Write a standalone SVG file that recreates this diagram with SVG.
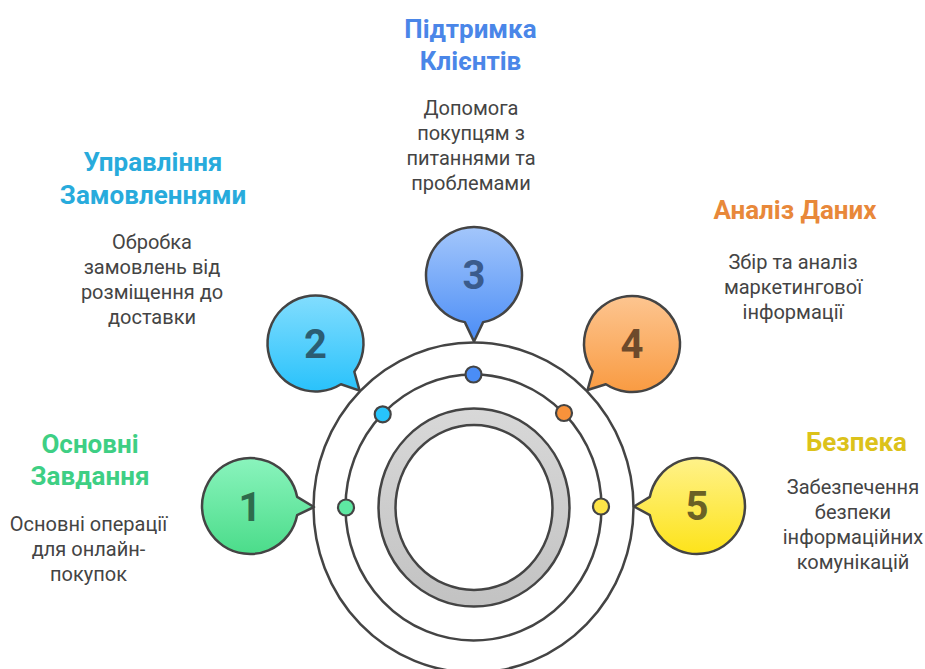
<svg xmlns="http://www.w3.org/2000/svg" width="925" height="669" viewBox="0 0 925 669">
<defs>
<linearGradient id="g1" x1="0" y1="0" x2="0" y2="1"><stop offset="0" stop-color="#8af4bd"/><stop offset="1" stop-color="#4bdc8a"/></linearGradient>
<linearGradient id="g2" x1="0" y1="0" x2="0" y2="1"><stop offset="0" stop-color="#82ddfe"/><stop offset="1" stop-color="#29c2fb"/></linearGradient>
<linearGradient id="g3" x1="0" y1="0" x2="0" y2="1"><stop offset="0" stop-color="#a3c6fb"/><stop offset="1" stop-color="#4b8df6"/></linearGradient>
<linearGradient id="g4" x1="0" y1="0" x2="0" y2="1"><stop offset="0" stop-color="#fdc590"/><stop offset="1" stop-color="#f99b42"/></linearGradient>
<linearGradient id="g5" x1="0" y1="0" x2="0" y2="1"><stop offset="0" stop-color="#fff28a"/><stop offset="1" stop-color="#fde31a"/></linearGradient>
<linearGradient id="gr" x1="0" y1="0" x2="0" y2="1"><stop offset="0" stop-color="#d8d8d8"/><stop offset="1" stop-color="#c2c2c2"/></linearGradient>
<style>
.ln{fill:none;stroke:#444;stroke-width:2.5}
.bub{stroke:#444;stroke-width:2.5;stroke-linejoin:round}
.dot{stroke:#444;stroke-width:2.2}
.num{font-family:Roboto,"Liberation Sans",sans-serif;font-weight:bold;font-size:40px;text-anchor:middle}
.ttl{font-family:Roboto,"Liberation Sans",sans-serif;font-weight:bold;font-size:26px;text-anchor:middle}
.dsc{font-family:Roboto,"Liberation Sans",sans-serif;font-size:20px;fill:#444;text-anchor:middle}
</style>
</defs>
<rect width="925" height="669" fill="#fff"/>

<g id="rings">
<ellipse class="ln" cx="473.5" cy="507.5" rx="160" ry="165"/>
<ellipse class="ln" cx="473.5" cy="507.5" rx="128" ry="133"/>
<ellipse cx="474" cy="507.5" rx="95.5" ry="99" fill="url(#gr)" stroke="#444" stroke-width="2.5"/>
<ellipse cx="474" cy="507.5" rx="78.5" ry="82.5" fill="#fff" stroke="#444" stroke-width="2.5"/>
</g>

<g id="connectors">
<circle class="dot" cx="346" cy="507.5" r="8" fill="#5ee8a2"/>
<circle class="dot" cx="382.7" cy="414.3" r="8" fill="#27c4fb"/>
<circle class="dot" cx="473.5" cy="374.5" r="8" fill="#4a8df6"/>
<circle class="dot" cx="564" cy="413" r="8" fill="#f8923b"/>
<circle class="dot" cx="601" cy="506.5" r="8" fill="#fde447"/>
</g>

<g id="node1">
<path class="bub" fill="url(#g1)" d="M314,507 L297.12,496.84 A48,48 0 1 0 297.12,515.16 Z"/>
<text class="num" x="250" y="521" fill="#2e6b4c">1</text>
<text class="ttl" x="90" y="452.5" fill="#3ecf84">Основні</text>
<text class="ttl" x="90" y="485" fill="#3ecf84">Завдання</text>
<text class="dsc" x="88.5" y="531">Основні операції</text>
<text class="dsc" x="88.5" y="556">для онлайн-</text>
<text class="dsc" x="88.5" y="581">покупок</text>
</g>

<g id="node2">
<path class="bub" fill="url(#g2)" d="M359.6,390.6 L354.33,371.72 A48,48 0 1 0 340.94,384.20 Z"/>
<text class="num" x="315.5" y="357.5" fill="#2b5d72">2</text>
<text class="ttl" x="153" y="171" fill="#28abdc">Управління</text>
<text class="ttl" x="153" y="203.5" fill="#28abdc">Замовленнями</text>
<text class="dsc" x="152" y="248.5">Обробка</text>
<text class="dsc" x="152" y="273.5">замовлень від</text>
<text class="dsc" x="152" y="298.5">розміщення до</text>
<text class="dsc" x="152" y="323.5">доставки</text>
</g>

<g id="node3">
<path class="bub" fill="url(#g3)" d="M474,341.5 L483.16,322.12 A48,48 0 1 0 464.84,322.12 Z"/>
<text class="num" x="474" y="289" fill="#3a5b8c">3</text>
<text class="ttl" x="470.5" y="38" fill="#4a86e8">Підтримка</text>
<text class="ttl" x="470.5" y="70" fill="#4a86e8">Клієнтів</text>
<text class="dsc" x="471" y="115">Допомога</text>
<text class="dsc" x="471" y="140">покупцям з</text>
<text class="dsc" x="471" y="165">питаннями та</text>
<text class="dsc" x="471" y="190">проблемами</text>
</g>

<g id="node4">
<path class="bub" fill="url(#g4)" d="M587.54,390.04 L605.86,384.26 A48,48 0 1 0 592.68,371.53 Z"/>
<text class="num" x="632" y="358" fill="#6d4a2b">4</text>
<text class="ttl" x="795" y="218.5" fill="#e8883a">Аналіз Даних</text>
<text class="dsc" x="793" y="268.5">Збір та аналіз</text>
<text class="dsc" x="793" y="293.5">маркетингової</text>
<text class="dsc" x="793" y="318.5">інформації</text>
</g>

<g id="node5">
<path class="bub" fill="url(#g5)" d="M634,506.5 L649.88,515.16 A48,48 0 1 0 649.88,496.84 Z"/>
<text class="num" x="697" y="520" fill="#6b6125">5</text>
<text class="ttl" x="856.5" y="451" fill="#dcc21a">Безпека</text>
<text class="dsc" x="853" y="494">Забезпечення</text>
<text class="dsc" x="853" y="519">безпеки</text>
<text class="dsc" x="853" y="544">інформаційних</text>
<text class="dsc" x="853" y="569">комунікацій</text>
</g>
</svg>
